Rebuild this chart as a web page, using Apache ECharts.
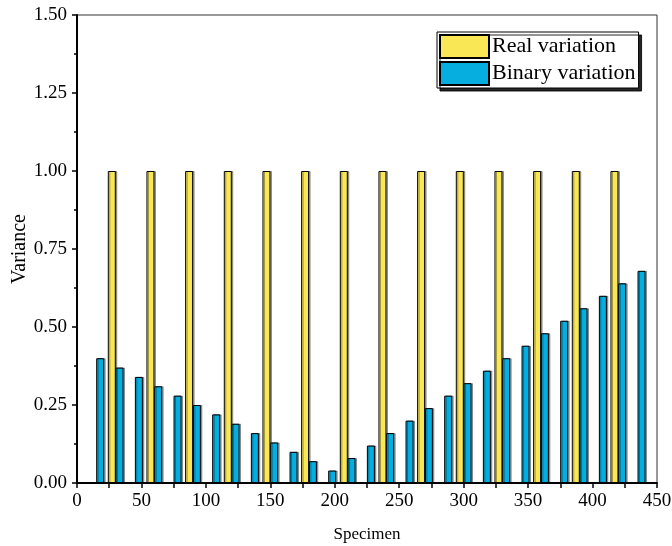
<!DOCTYPE html>
<html>
<head>
<meta charset="utf-8">
<script src="https://cdn.jsdelivr.net/npm/echarts@6/dist/echarts.min.js"></script>
<style>
html,body{margin:0;padding:0;background:#fff;}
#chart{width:672px;height:546px;}
</style>
</head>
<body>
<div id="chart"></div>
<script>
// specimen positions and variances
var realX = [27,57,87,117,147,177,207,237,267,297,327,357,387,417];
var realY = [1,1,1,1,1,1,1,1,1,1,1,1,1,1];
var binX = [18,33,48,63,78,93,108,123,138,153,168,183,198,213,228,243,258,273,288,303,318,333,348,363,378,393,408,423,438];
var binY = [0.40,0.37,0.34,0.31,0.28,0.25,0.22,0.19,0.16,0.13,0.10,0.07,0.04,
            0.08,0.12,0.16,0.20,0.24,0.28,0.32,0.36,0.40,0.44,0.48,0.52,0.56,0.60,0.64,0.68];

function pairs(xs, ys) {
    var out = [];
    for (var i = 0; i < xs.length; i++) out.push([xs[i], ys[i]]);
    return out;
}

var font = 'Liberation Serif';
var chart = echarts.init(document.getElementById('chart'));
var option = {
    animation: false,
    textStyle: {fontFamily: font},
    grid: {left: 77, right: 15, top: 15, bottom: 63, show: true, borderColor: '#333', borderWidth: 1,
        containLabel: false, outerBoundsMode: 'none'},
    legend: {
        data: ['Real variation', 'Binary variation'],
        orient: 'vertical',
        icon: 'rect',
        left: 437, top: 32,
        itemWidth: 49, itemHeight: 23, itemGap: 2,
        padding: [2, 3, 2, 2],
        backgroundColor: '#fff',
        borderColor: '#000', borderWidth: 1,
        shadowColor: 'rgba(0,0,0,0.85)', shadowOffsetX: 3, shadowOffsetY: 3, shadowBlur: 0,
        textStyle: {fontFamily: font, fontSize: 22, color: '#000', padding: [0, 0, 0, -2]}
    },
    xAxis: {
        type: 'value', min: 0, max: 450, interval: 50,
        name: 'Specimen', nameLocation: 'middle', nameGap: 43, nameMoveOverlap: false,
        nameTextStyle: {fontFamily: font, fontSize: 17, color: '#000'},
        axisLine: {lineStyle: {color: '#000', width: 2}},
        axisTick: {show: true, inside: false, length: 5, lineStyle: {color: '#000', width: 1.5}},
        minorTick: {show: true, splitNumber: 2, length: 5, lineStyle: {color: '#000', width: 1.5}},
        axisLabel: {fontFamily: font, fontSize: 19, color: '#000', margin: 9},
        splitLine: {show: false}
    },
    yAxis: {
        type: 'value', min: 0, max: 1.5, interval: 0.25,
        name: 'Variance', nameLocation: 'middle', nameGap: 47, nameMoveOverlap: false,
        nameTextStyle: {fontFamily: font, fontSize: 20, color: '#000'},
        axisLine: {show: true, lineStyle: {color: '#000', width: 2}},
        axisTick: {show: true, length: 5, lineStyle: {color: '#000', width: 1.5}},
        minorTick: {show: true, splitNumber: 2, length: 3, lineStyle: {color: '#000', width: 1.5}},
        axisLabel: {fontFamily: font, fontSize: 19, color: '#000', margin: 10,
            formatter: function (v) { return v.toFixed(2); }},
        splitLine: {show: false}
    },
    series: [
        {
            name: 'Real variation',
            type: 'bar',
            barWidth: 8,
            barGap: '-100%',
            itemStyle: {color: '#F9E756', borderColor: '#000', borderWidth: 1,
                shadowColor: 'rgba(0,0,0,0.35)', shadowOffsetX: 1.5, shadowBlur: 0},
            data: pairs(realX, realY)
        },
        {
            name: 'Binary variation',
            type: 'bar',
            barWidth: 8,
            barGap: '-100%',
            itemStyle: {color: '#06AEE0', borderColor: '#000', borderWidth: 1,
                shadowColor: 'rgba(0,0,0,0.35)', shadowOffsetX: 1.5, shadowBlur: 0},
            data: pairs(binX, binY)
        }
    ]
};
chart.setOption(option);
</script>
</body>
</html>
